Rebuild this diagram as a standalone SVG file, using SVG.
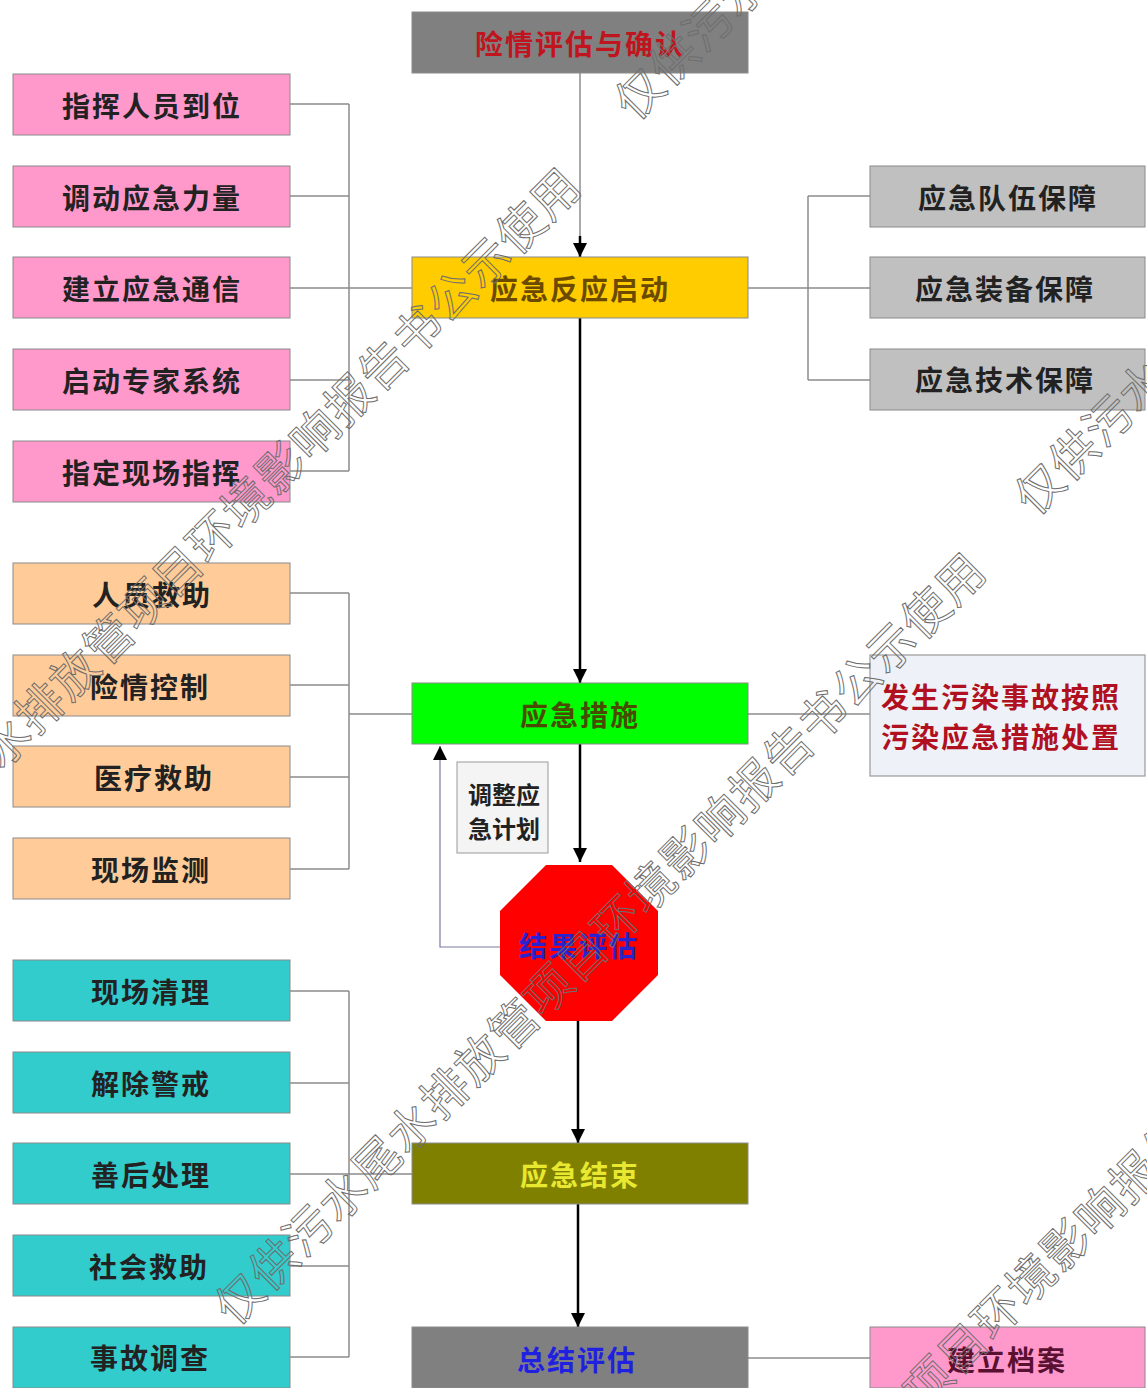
<svg xmlns="http://www.w3.org/2000/svg" width="1147" height="1388" viewBox="0 0 1147 1388">
<defs>
<style>
.t{font-family:"Noto Sans CJK SC","Noto Sans",sans-serif;font-size:28px;letter-spacing:2px;text-anchor:middle;dominant-baseline:central;font-weight:bold}
.b{stroke:#8a8a8a;stroke-width:1}
.c{fill:none;stroke:#8c8c8c;stroke-width:1.5}
.m{fill:none;stroke:#000;stroke-width:2.5}
.wm{font-family:"Noto Sans CJK SC",sans-serif;font-size:47px;letter-spacing:1.5px;fill:none;stroke:#6e6e6e;stroke-width:1}
</style>
<marker id="ahb" viewBox="0 0 10 10" refX="10" refY="5" markerWidth="18" markerHeight="14" markerUnits="userSpaceOnUse" orient="auto">
<path d="M0,0 L10,5 L0,10 z" fill="#000"/>
</marker>
</defs>
<rect width="1147" height="1388" fill="#fff"/>

<g id="connectors">
<path class="c" d="M580,73 V240"/>
<path d="M580,236 V257" class="m" marker-end="url(#ahb)" stroke-width="1"/>
<path class="c" d="M290,104 H349 M290,196 H349 M290,288 H412 M290,380 H349 M290,471 H349 M349,104 V471"/>
<path class="c" d="M748,288 H870 M808,196 H870 M808,380 H870 M808,196 V380"/>
<path class="m" d="M580,318 V683" marker-end="url(#ahb)"/>
<path class="c" d="M290,593 H349 M290,685 H349 M290,777 H349 M290,869 H349 M349,593 V869 M349,714 H412"/>
<path class="c" d="M748,714 H870"/>
<path class="m" d="M580,744 V862" marker-end="url(#ahb)"/>
<path d="M500,947 H440 V746" fill="none" stroke="#7a7aa0" stroke-width="1.2" marker-end="url(#ahb)"/>
<path class="m" d="M578,1021 V1143" marker-end="url(#ahb)"/>
<path class="c" d="M290,991 H349 M290,1083 H349 M290,1174 H412 M290,1266 H349 M290,1357 H349 M349,991 V1357"/>
<path class="m" d="M578,1204 V1327" marker-end="url(#ahb)"/>
<path class="c" d="M748,1358 H870"/>
</g>

<g id="n-assess">
<rect class="b" x="412" y="12" width="336" height="61" fill="#808080"/>
<text class="t" x="580" y="43" fill="#c0141e">险情评估与确认</text>
</g>
<g id="n-start">
<rect class="b" x="412" y="257" width="336" height="61" fill="#ffcc00"/>
<text class="t" x="580" y="288" fill="#6b4a00">应急反应启动</text>
</g>
<g id="n-l1"><rect class="b" x="13" y="74" width="277" height="61" fill="#ff99cc"/><text class="t" x="152" y="105" fill="#222">指挥人员到位</text></g>
<g id="n-l2"><rect class="b" x="13" y="166" width="277" height="61" fill="#ff99cc"/><text class="t" x="152" y="197" fill="#222">调动应急力量</text></g>
<g id="n-l3"><rect class="b" x="13" y="257" width="277" height="61" fill="#ff99cc"/><text class="t" x="152" y="288" fill="#222">建立应急通信</text></g>
<g id="n-l4"><rect class="b" x="13" y="349" width="277" height="61" fill="#ff99cc"/><text class="t" x="152" y="380" fill="#222">启动专家系统</text></g>
<g id="n-l5"><rect class="b" x="13" y="441" width="277" height="61" fill="#ff99cc"/><text class="t" x="152" y="472" fill="#222">指定现场指挥</text></g>

<g id="n-r1"><rect class="b" x="870" y="166" width="275" height="61" fill="#c0c0c0"/><text class="t" x="1008" y="197" fill="#222">应急队伍保障</text></g>
<g id="n-r2"><rect class="b" x="870" y="257" width="275" height="61" fill="#c0c0c0"/><text class="t" x="1005" y="288" fill="#222">应急装备保障</text></g>
<g id="n-r3"><rect class="b" x="870" y="349" width="275" height="61" fill="#c0c0c0"/><text class="t" x="1005" y="379" fill="#222">应急技术保障</text></g>

<g id="n-o1"><rect class="b" x="13" y="563" width="277" height="61" fill="#ffcc99"/><text class="t" x="152" y="594" fill="#222">人员救助</text></g>
<g id="n-o2"><rect class="b" x="13" y="655" width="277" height="61" fill="#ffcc99"/><text class="t" x="150" y="686" fill="#222">险情控制</text></g>
<g id="n-o3"><rect class="b" x="13" y="746" width="277" height="61" fill="#ffcc99"/><text class="t" x="154" y="777" fill="#222">医疗救助</text></g>
<g id="n-o4"><rect class="b" x="13" y="838" width="277" height="61" fill="#ffcc99"/><text class="t" x="151" y="869" fill="#222">现场监测</text></g>

<g id="n-measure">
<rect class="b" x="412" y="683" width="336" height="61" fill="#00ff00"/>
<text class="t" x="580" y="714" fill="#4a4a00">应急措施</text>
</g>
<g id="n-pollution">
<rect x="870" y="655" width="275" height="121" fill="#eef2f8" stroke="#999" stroke-width="1.2"/>
<text class="t" x="1001" y="696" fill="#b01020">发生污染事故按照</text>
<text class="t" x="1001" y="736" fill="#b01020">污染应急措施处置</text>
</g>
<g id="n-adjust">
<rect x="457" y="762" width="91" height="91" fill="#f4f4f4" stroke="#999" stroke-width="1"/>
<text class="t" x="504" y="793" fill="#222" style="font-size:24px;letter-spacing:0">调整应</text>
<text class="t" x="504" y="827" fill="#222" style="font-size:24px;letter-spacing:0">急计划</text>
</g>
<g id="n-result">
<polygon points="546,865 612,865 658,911 658,975 612,1021 546,1021 500,975 500,911" fill="#ff0000"/>
<text class="t" x="579" y="945" fill="#2a22d0">结果评估</text>
</g>

<g id="n-c1"><rect class="b" x="13" y="960" width="277" height="61" fill="#33cccc"/><text class="t" x="151" y="991" fill="#222">现场清理</text></g>
<g id="n-c2"><rect class="b" x="13" y="1052" width="277" height="61" fill="#33cccc"/><text class="t" x="151" y="1083" fill="#222">解除警戒</text></g>
<g id="n-c3"><rect class="b" x="13" y="1143" width="277" height="61" fill="#33cccc"/><text class="t" x="151" y="1174" fill="#222">善后处理</text></g>
<g id="n-c4"><rect class="b" x="13" y="1235" width="277" height="61" fill="#33cccc"/><text class="t" x="149" y="1266" fill="#222">社会救助</text></g>
<g id="n-c5"><rect class="b" x="13" y="1327" width="277" height="61" fill="#33cccc"/><text class="t" x="150" y="1357" fill="#222">事故调查</text></g>

<g id="n-end">
<rect class="b" x="412" y="1143" width="336" height="61" fill="#808000"/>
<text class="t" x="580" y="1174" fill="#e8e830">应急结束</text>
</g>
<g id="n-summary">
<rect class="b" x="412" y="1327" width="336" height="61" fill="#808080"/>
<text class="t" x="577" y="1359" fill="#2020e0">总结评估</text>
</g>
<g id="n-archive">
<rect class="b" x="870" y="1327" width="275" height="61" fill="#ff99cc"/>
<text class="t" x="1007" y="1359" fill="#5a1030">建立档案</text>
</g>

<g id="watermark">
<text class="wm" transform="translate(-165,915) rotate(-45)" x="-23" y="16">仅供污水尾水排放管项目环境影响报告书公示使用</text>
<text class="wm" transform="translate(640,95) rotate(-45)" x="-23" y="16">仅供污水尾水排放管项目环境影响报告书公示使用</text>
<text class="wm" transform="translate(240,1300) rotate(-45)" x="-23" y="16">仅供污水尾水排放管项目环境影响报告书公示使用</text>
<text class="wm" transform="translate(1040,490) rotate(-45)" x="-23" y="16">仅供污水尾水排放管项目环境影响报告书公示使用</text>
<text class="wm" transform="translate(620,1692) rotate(-45)" x="-23" y="16">仅供污水尾水排放管项目环境影响报告书公示使用</text>
</g>
</svg>
